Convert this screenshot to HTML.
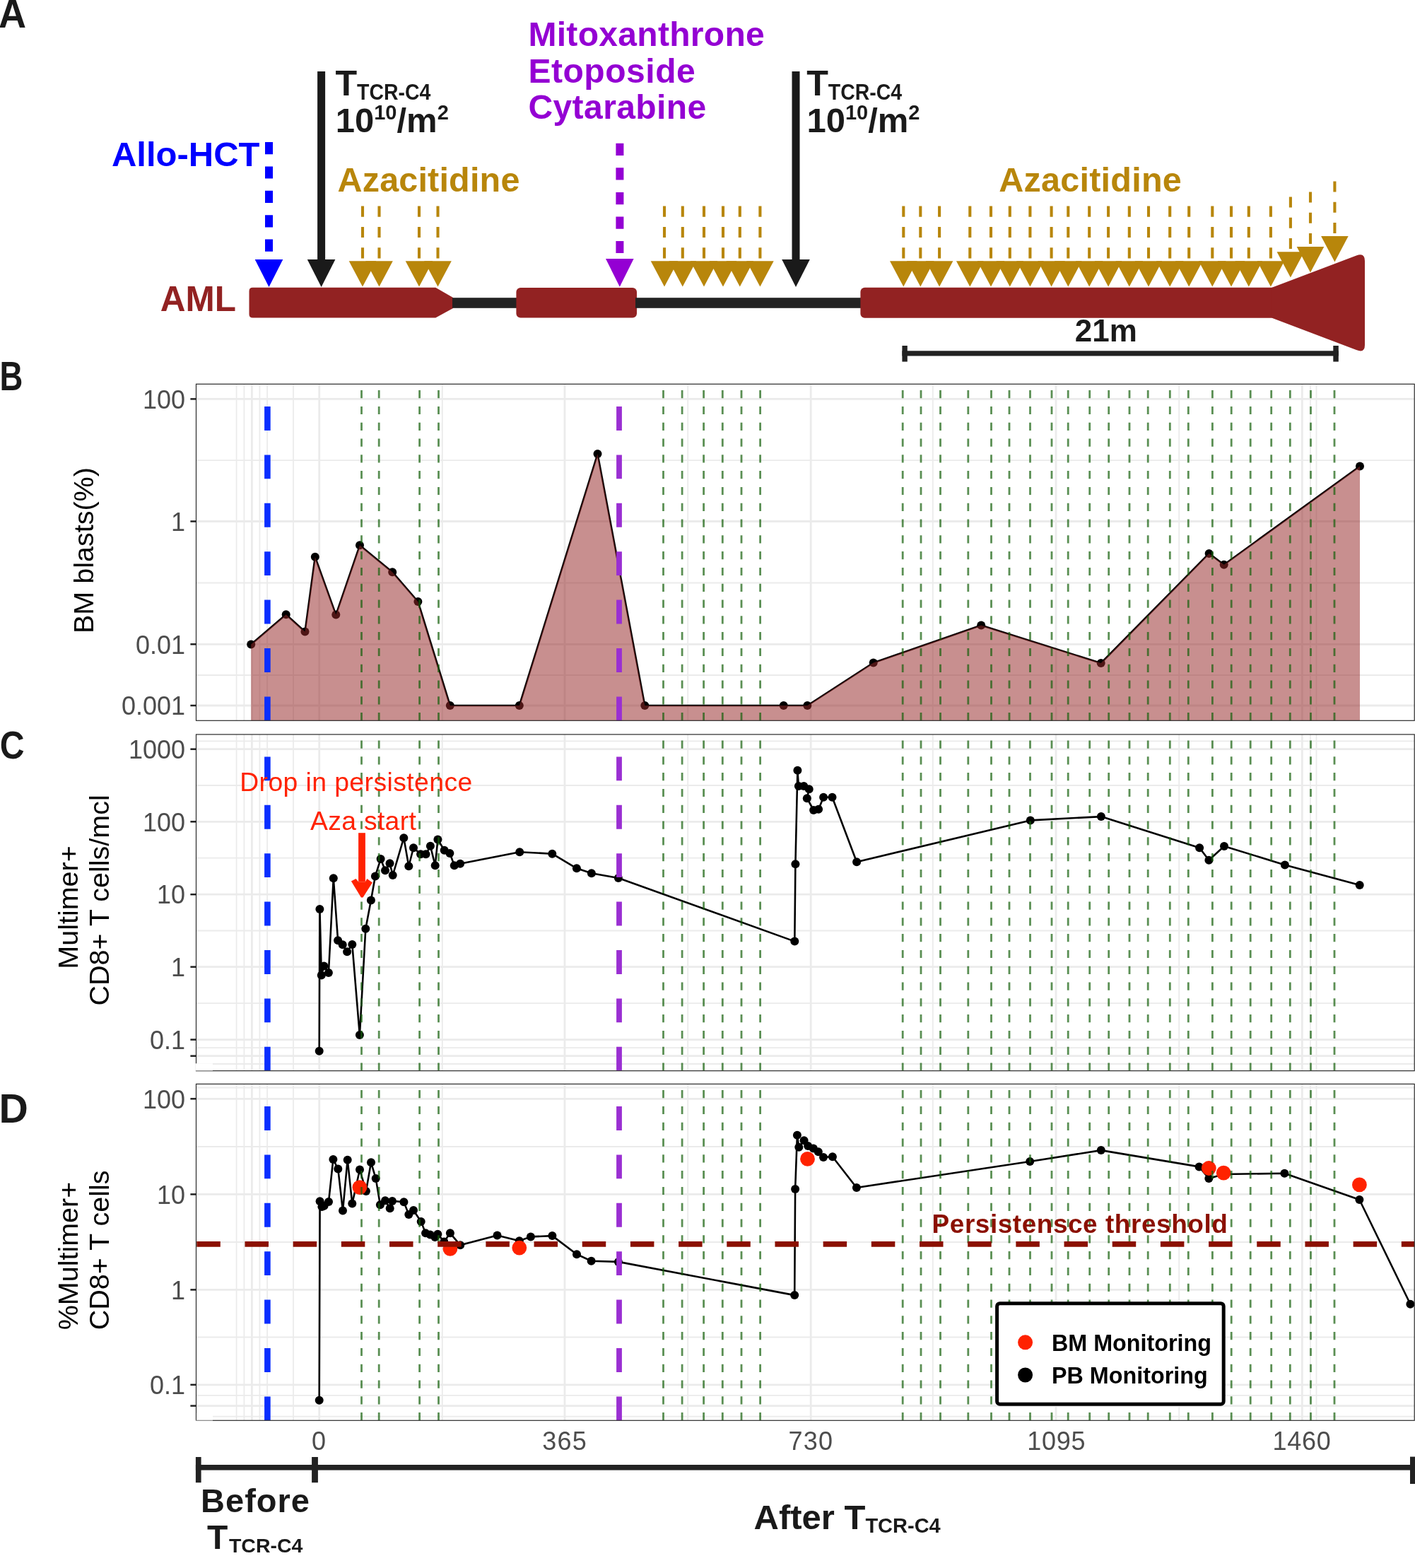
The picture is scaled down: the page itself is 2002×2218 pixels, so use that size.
<!DOCTYPE html>
<html><head><meta charset="utf-8"><title>Figure</title>
<style>html,body{margin:0;padding:0;background:#fff;overflow:hidden;}svg{display:block;}text{font-family:'Liberation Sans', Arial, sans-serif;}</style>
</head><body>
<svg width="2002" height="2218" viewBox="0 0 2002 2218">
<rect x="0" y="0" width="2002" height="2218" fill="#fff"/>
<text transform="translate(-2,39) scale(0.95,1)" font-size="57" font-weight="bold" fill="#1A1A1A">A</text>
<text transform="translate(-0.6,552) scale(0.794,1)" font-size="57.3" font-weight="bold" fill="#1A1A1A">B</text>
<text transform="translate(-0.35,1073.1) scale(0.863,1)" font-size="55.9" font-weight="bold" fill="#1A1A1A">C</text>
<text transform="translate(-1.5,1588) scale(1.01,1)" font-size="56.7" font-weight="bold" fill="#1A1A1A">D</text>
<path d="M357.5,406.8 H616.3 L641,421 V436 L616.3,449.6 H357.5 Q352.5,449.6 352.5,444.6 V411.8 Q352.5,406.8 357.5,406.8 Z" fill="#922222"/>
<rect x="640" y="421.2" width="92" height="14.6" fill="#222222"/>
<rect x="730.4" y="407.1" width="170.6" height="42.5" rx="6" fill="#922222"/>
<rect x="899" y="421.2" width="320" height="14.6" fill="#222222"/>
<rect x="1217.4" y="406.8" width="638" height="42.9" rx="6" fill="#922222"/>
<path d="M1799.6,406.8 L1919,361.5 Q1931,357 1931,369 V488 Q1931,500 1919,495 L1799.6,449.7 Z" fill="#922222"/>
<text x="334" y="440.3" font-size="49.5" font-weight="bold" fill="#922222" text-anchor="end">AML</text>
<text x="367.5" y="235" font-size="49" font-weight="bold" fill="#0000FF" text-anchor="end">Allo-HCT</text>
<line x1="380.5" y1="201" x2="380.5" y2="358" stroke="#0000FF" stroke-width="11" stroke-dasharray="17.2 17.2"/>
<polygon points="360.7,367 400.3,367 380.5,406" fill="#0000FF"/>
<rect x="449.1" y="101" width="11" height="268" fill="#1A1A1A"/>
<polygon points="434.8,367 474.4,367 454.6,406" fill="#1A1A1A"/>
<text x="474.6" y="135.1" font-size="50.2" font-weight="bold" fill="#1A1A1A">T</text>
<text x="505.1" y="140.5" font-size="31" font-weight="bold" fill="#1A1A1A" textLength="104.3" lengthAdjust="spacingAndGlyphs">TCR-C4</text>
<text x="474.7" y="186.5" font-size="49" font-weight="bold" fill="#1A1A1A">10<tspan font-size="29" dy="-17.6">10</tspan><tspan dy="17.6">/m</tspan><tspan font-size="29" dy="-17.6">2</tspan></text>
<rect x="1120.5" y="101" width="11" height="268" fill="#1A1A1A"/>
<polygon points="1106.2,367 1145.8,367 1126,406" fill="#1A1A1A"/>
<text x="1141.3" y="135.1" font-size="50.2" font-weight="bold" fill="#1A1A1A">T</text>
<text x="1171.8" y="140.5" font-size="31" font-weight="bold" fill="#1A1A1A" textLength="104.3" lengthAdjust="spacingAndGlyphs">TCR-C4</text>
<text x="1141.4" y="186.5" font-size="49" font-weight="bold" fill="#1A1A1A">10<tspan font-size="29" dy="-17.6">10</tspan><tspan dy="17.6">/m</tspan><tspan font-size="29" dy="-17.6">2</tspan></text>
<text x="747.4" y="64.8" font-size="48" font-weight="bold" fill="#9400D3" textLength="334.4">Mitoxanthrone</text>
<text x="747.4" y="116.6" font-size="48" font-weight="bold" fill="#9400D3" textLength="236.3">Etoposide</text>
<text x="747.4" y="168.4" font-size="48" font-weight="bold" fill="#9400D3" textLength="251.9">Cytarabine</text>
<line x1="876.9" y1="202.7" x2="876.9" y2="358" stroke="#9400D3" stroke-width="11" stroke-dasharray="17.3 17.3"/>
<polygon points="857,366 896.6,366 876.8,405.8" fill="#9400D3"/>
<text x="477.5" y="270.8" font-size="48.5" font-weight="bold" fill="#B8860B" textLength="257.9">Azacitidine</text>
<text x="1413.3" y="270.8" font-size="48.5" font-weight="bold" fill="#B8860B" textLength="258.5">Azacitidine</text>
<line x1="513" y1="291.6" x2="513" y2="366" stroke="#B8860B" stroke-width="4.1" stroke-dasharray="15.2 14.1"/>
<line x1="536.5" y1="291.6" x2="536.5" y2="366" stroke="#B8860B" stroke-width="4.1" stroke-dasharray="15.2 14.1"/>
<line x1="593" y1="291.6" x2="593" y2="366" stroke="#B8860B" stroke-width="4.1" stroke-dasharray="15.2 14.1"/>
<line x1="619.5" y1="291.6" x2="619.5" y2="366" stroke="#B8860B" stroke-width="4.1" stroke-dasharray="15.2 14.1"/>
<line x1="940" y1="291.6" x2="940" y2="366" stroke="#B8860B" stroke-width="4.1" stroke-dasharray="15.2 14.1"/>
<line x1="965.8" y1="291.6" x2="965.8" y2="366" stroke="#B8860B" stroke-width="4.1" stroke-dasharray="15.2 14.1"/>
<line x1="996" y1="291.6" x2="996" y2="366" stroke="#B8860B" stroke-width="4.1" stroke-dasharray="15.2 14.1"/>
<line x1="1023" y1="291.6" x2="1023" y2="366" stroke="#B8860B" stroke-width="4.1" stroke-dasharray="15.2 14.1"/>
<line x1="1046.8" y1="291.6" x2="1046.8" y2="366" stroke="#B8860B" stroke-width="4.1" stroke-dasharray="15.2 14.1"/>
<line x1="1075.4" y1="291.6" x2="1075.4" y2="366" stroke="#B8860B" stroke-width="4.1" stroke-dasharray="15.2 14.1"/>
<line x1="1278.3" y1="291.6" x2="1278.3" y2="366" stroke="#B8860B" stroke-width="4.1" stroke-dasharray="15.2 14.1"/>
<line x1="1302.3" y1="291.6" x2="1302.3" y2="366" stroke="#B8860B" stroke-width="4.1" stroke-dasharray="15.2 14.1"/>
<line x1="1329.1" y1="291.6" x2="1329.1" y2="366" stroke="#B8860B" stroke-width="4.1" stroke-dasharray="15.2 14.1"/>
<line x1="1372.3" y1="291.6" x2="1372.3" y2="366" stroke="#B8860B" stroke-width="4.1" stroke-dasharray="15.2 14.1"/>
<line x1="1402" y1="291.6" x2="1402" y2="366" stroke="#B8860B" stroke-width="4.1" stroke-dasharray="15.2 14.1"/>
<line x1="1428.8" y1="291.6" x2="1428.8" y2="366" stroke="#B8860B" stroke-width="4.1" stroke-dasharray="15.2 14.1"/>
<line x1="1457.4" y1="291.6" x2="1457.4" y2="366" stroke="#B8860B" stroke-width="4.1" stroke-dasharray="15.2 14.1"/>
<line x1="1487.6" y1="291.6" x2="1487.6" y2="366" stroke="#B8860B" stroke-width="4.1" stroke-dasharray="15.2 14.1"/>
<line x1="1511.3" y1="291.6" x2="1511.3" y2="366" stroke="#B8860B" stroke-width="4.1" stroke-dasharray="15.2 14.1"/>
<line x1="1541.2" y1="291.6" x2="1541.2" y2="366" stroke="#B8860B" stroke-width="4.1" stroke-dasharray="15.2 14.1"/>
<line x1="1568.1" y1="291.6" x2="1568.1" y2="366" stroke="#B8860B" stroke-width="4.1" stroke-dasharray="15.2 14.1"/>
<line x1="1597.8" y1="291.6" x2="1597.8" y2="366" stroke="#B8860B" stroke-width="4.1" stroke-dasharray="15.2 14.1"/>
<line x1="1625" y1="291.6" x2="1625" y2="366" stroke="#B8860B" stroke-width="4.1" stroke-dasharray="15.2 14.1"/>
<line x1="1655.2" y1="291.6" x2="1655.2" y2="366" stroke="#B8860B" stroke-width="4.1" stroke-dasharray="15.2 14.1"/>
<line x1="1682.2" y1="291.6" x2="1682.2" y2="366" stroke="#B8860B" stroke-width="4.1" stroke-dasharray="15.2 14.1"/>
<line x1="1715.3" y1="291.6" x2="1715.3" y2="366" stroke="#B8860B" stroke-width="4.1" stroke-dasharray="15.2 14.1"/>
<line x1="1742" y1="291.6" x2="1742" y2="366" stroke="#B8860B" stroke-width="4.1" stroke-dasharray="15.2 14.1"/>
<line x1="1766.8" y1="291.6" x2="1766.8" y2="366" stroke="#B8860B" stroke-width="4.1" stroke-dasharray="15.2 14.1"/>
<line x1="1797.9" y1="291.6" x2="1797.9" y2="366" stroke="#B8860B" stroke-width="4.1" stroke-dasharray="15.2 14.1"/>
<line x1="1825.9" y1="278.5" x2="1825.9" y2="353.3" stroke="#B8860B" stroke-width="4.1" stroke-dasharray="15 14.3"/>
<line x1="1854" y1="271.5" x2="1854" y2="346.1" stroke="#B8860B" stroke-width="4.1" stroke-dasharray="15 14.3"/>
<line x1="1888.4" y1="256.5" x2="1888.4" y2="331.1" stroke="#B8860B" stroke-width="4.1" stroke-dasharray="15 14.3"/>
<polygon points="493.7,369.2 532.3,369.2 513,405.6" fill="#B8860B"/>
<polygon points="517.2,369.2 555.8,369.2 536.5,405.6" fill="#B8860B"/>
<polygon points="573.7,369.2 612.3,369.2 593,405.6" fill="#B8860B"/>
<polygon points="600.2,369.2 638.8,369.2 619.5,405.6" fill="#B8860B"/>
<polygon points="920.7,369.2 959.3,369.2 940,405.6" fill="#B8860B"/>
<polygon points="946.5,369.2 985.1,369.2 965.8,405.6" fill="#B8860B"/>
<polygon points="976.7,369.2 1015.3,369.2 996,405.6" fill="#B8860B"/>
<polygon points="1003.7,369.2 1042.3,369.2 1023,405.6" fill="#B8860B"/>
<polygon points="1027.5,369.2 1066.1,369.2 1046.8,405.6" fill="#B8860B"/>
<polygon points="1056.1,369.2 1094.7,369.2 1075.4,405.6" fill="#B8860B"/>
<polygon points="1259,369.2 1297.6,369.2 1278.3,405.6" fill="#B8860B"/>
<polygon points="1283,369.2 1321.6,369.2 1302.3,405.6" fill="#B8860B"/>
<polygon points="1309.8,369.2 1348.4,369.2 1329.1,405.6" fill="#B8860B"/>
<polygon points="1353,369.2 1391.6,369.2 1372.3,405.6" fill="#B8860B"/>
<polygon points="1382.7,369.2 1421.3,369.2 1402,405.6" fill="#B8860B"/>
<polygon points="1409.5,369.2 1448.1,369.2 1428.8,405.6" fill="#B8860B"/>
<polygon points="1438.1,369.2 1476.7,369.2 1457.4,405.6" fill="#B8860B"/>
<polygon points="1468.3,369.2 1506.9,369.2 1487.6,405.6" fill="#B8860B"/>
<polygon points="1492,369.2 1530.6,369.2 1511.3,405.6" fill="#B8860B"/>
<polygon points="1521.9,369.2 1560.5,369.2 1541.2,405.6" fill="#B8860B"/>
<polygon points="1548.8,369.2 1587.4,369.2 1568.1,405.6" fill="#B8860B"/>
<polygon points="1578.5,369.2 1617.1,369.2 1597.8,405.6" fill="#B8860B"/>
<polygon points="1605.7,369.2 1644.3,369.2 1625,405.6" fill="#B8860B"/>
<polygon points="1635.9,369.2 1674.5,369.2 1655.2,405.6" fill="#B8860B"/>
<polygon points="1662.9,369.2 1701.5,369.2 1682.2,405.6" fill="#B8860B"/>
<polygon points="1696,369.2 1734.6,369.2 1715.3,405.6" fill="#B8860B"/>
<polygon points="1722.7,369.2 1761.3,369.2 1742,405.6" fill="#B8860B"/>
<polygon points="1747.5,369.2 1786.1,369.2 1766.8,405.6" fill="#B8860B"/>
<polygon points="1778.6,369.2 1817.2,369.2 1797.9,405.6" fill="#B8860B"/>
<polygon points="1806.6,356.3 1845.2,356.3 1825.9,392.6" fill="#B8860B"/>
<polygon points="1834.7,349.1 1873.3,349.1 1854,385.4" fill="#B8860B"/>
<polygon points="1869.1,334.1 1907.7,334.1 1888.4,370.4" fill="#B8860B"/>
<text x="1564.8" y="483.2" font-size="44" font-weight="bold" fill="#1A1A1A" text-anchor="middle">21m</text>
<rect x="1276.4" y="496.3" width="617.4" height="7.2" fill="#222222"/>
<rect x="1276.4" y="489" width="7.4" height="22.6" fill="#222222"/>
<rect x="1886.3" y="489" width="7.5" height="22.6" fill="#222222"/>
<defs><clipPath id="clipB"><rect x="277.5" y="543.3" width="1723.7" height="476"/></clipPath></defs>
<g clip-path="url(#clipB)">
<line x1="277.5" y1="651.1" x2="2001.2" y2="651.1" stroke="#EBEBEB" stroke-width="1.8"/>
<line x1="277.5" y1="824.5" x2="2001.2" y2="824.5" stroke="#EBEBEB" stroke-width="1.8"/>
<line x1="277.5" y1="955" x2="2001.2" y2="955" stroke="#EBEBEB" stroke-width="1.8"/>
<line x1="334.6" y1="543.3" x2="334.6" y2="1019.3" stroke="#EBEBEB" stroke-width="1.8"/>
<line x1="345.4" y1="543.3" x2="345.4" y2="1019.3" stroke="#EBEBEB" stroke-width="1.8"/>
<line x1="367.4" y1="543.3" x2="367.4" y2="1019.3" stroke="#EBEBEB" stroke-width="1.8"/>
<line x1="378.1" y1="543.3" x2="378.1" y2="1019.3" stroke="#EBEBEB" stroke-width="1.8"/>
<line x1="415" y1="543.3" x2="415" y2="1019.3" stroke="#EBEBEB" stroke-width="1.8"/>
<line x1="625.8" y1="543.3" x2="625.8" y2="1019.3" stroke="#EBEBEB" stroke-width="1.8"/>
<line x1="973.2" y1="543.3" x2="973.2" y2="1019.3" stroke="#EBEBEB" stroke-width="1.8"/>
<line x1="1319.8" y1="543.3" x2="1319.8" y2="1019.3" stroke="#EBEBEB" stroke-width="1.8"/>
<line x1="1668.2" y1="543.3" x2="1668.2" y2="1019.3" stroke="#EBEBEB" stroke-width="1.8"/>
<line x1="1853.9" y1="543.3" x2="1853.9" y2="1019.3" stroke="#EBEBEB" stroke-width="1.8"/>
<line x1="1862.5" y1="543.3" x2="1862.5" y2="1019.3" stroke="#EBEBEB" stroke-width="1.8"/>
<line x1="277.5" y1="564.4" x2="2001.2" y2="564.4" stroke="#EBEBEB" stroke-width="2.8"/>
<line x1="277.5" y1="737.5" x2="2001.2" y2="737.5" stroke="#EBEBEB" stroke-width="2.8"/>
<line x1="277.5" y1="911.3" x2="2001.2" y2="911.3" stroke="#EBEBEB" stroke-width="2.8"/>
<line x1="277.5" y1="998" x2="2001.2" y2="998" stroke="#EBEBEB" stroke-width="2.8"/>
<line x1="356.4" y1="543.3" x2="356.4" y2="1019.3" stroke="#EBEBEB" stroke-width="2.8"/>
<line x1="451.7" y1="543.3" x2="451.7" y2="1019.3" stroke="#EBEBEB" stroke-width="2.8"/>
<line x1="799" y1="543.3" x2="799" y2="1019.3" stroke="#EBEBEB" stroke-width="2.8"/>
<line x1="1147.2" y1="543.3" x2="1147.2" y2="1019.3" stroke="#EBEBEB" stroke-width="2.8"/>
<line x1="1494" y1="543.3" x2="1494" y2="1019.3" stroke="#EBEBEB" stroke-width="2.8"/>
<line x1="1842.3" y1="543.3" x2="1842.3" y2="1019.3" stroke="#EBEBEB" stroke-width="2.8"/>
<circle cx="355.2" cy="911.4" r="6" fill="#000"/>
<circle cx="404.7" cy="869.3" r="6" fill="#000"/>
<circle cx="431.5" cy="893.5" r="6" fill="#000"/>
<circle cx="445.8" cy="787.7" r="6" fill="#000"/>
<circle cx="475.3" cy="869.6" r="6" fill="#000"/>
<circle cx="509" cy="771.3" r="6" fill="#000"/>
<circle cx="555.2" cy="809.2" r="6" fill="#000"/>
<circle cx="591.4" cy="851" r="6" fill="#000"/>
<circle cx="636.8" cy="998" r="6" fill="#000"/>
<circle cx="734.8" cy="998" r="6" fill="#000"/>
<circle cx="845.5" cy="642.1" r="6" fill="#000"/>
<circle cx="912.3" cy="998" r="6" fill="#000"/>
<circle cx="1108.7" cy="998" r="6" fill="#000"/>
<circle cx="1142.3" cy="998" r="6" fill="#000"/>
<circle cx="1235.7" cy="937.5" r="6" fill="#000"/>
<circle cx="1388.2" cy="884.5" r="6" fill="#000"/>
<circle cx="1557.7" cy="938" r="6" fill="#000"/>
<circle cx="1710.6" cy="782.9" r="6" fill="#000"/>
<circle cx="1731.7" cy="798.7" r="6" fill="#000"/>
<circle cx="1924" cy="659.5" r="6" fill="#000"/>
<polyline points="355.2,911.4 404.7,869.3 431.5,893.5 445.8,787.7 475.3,869.6 509,771.3 555.2,809.2 591.4,851 636.8,998 734.8,998 845.5,642.1 912.3,998 1108.7,998 1142.3,998 1235.7,937.5 1388.2,884.5 1557.7,938 1710.6,782.9 1731.7,798.7 1924,659.5" fill="none" stroke="#000" stroke-width="2.6" stroke-linejoin="round"/>
<polygon points="355.2,1021.3 355.2,911.4 404.7,869.3 431.5,893.5 445.8,787.7 475.3,869.6 509,771.3 555.2,809.2 591.4,851 636.8,998 734.8,998 845.5,642.1 912.3,998 1108.7,998 1142.3,998 1235.7,937.5 1388.2,884.5 1557.7,938 1710.6,782.9 1731.7,798.7 1924,659.5 1924,1021.3" fill="rgb(150,40,40)" fill-opacity="0.52"/>
<line x1="378.4" y1="1019.3" x2="378.4" y2="543.3" stroke="#0A2EFF" stroke-width="8.6" stroke-dasharray="33.9 34.5"/>
<line x1="876" y1="1019.3" x2="876" y2="543.3" stroke="#9A2FD2" stroke-width="7.8" stroke-dasharray="33.9 34.5"/>
<line x1="511.5" y1="1019.3" x2="511.5" y2="543.3" stroke="rgba(20,95,10,0.70)" stroke-width="2.8" stroke-dasharray="11.2 11.6"/>
<line x1="536.2" y1="1019.3" x2="536.2" y2="543.3" stroke="rgba(20,95,10,0.70)" stroke-width="2.8" stroke-dasharray="11.2 11.6"/>
<line x1="593.6" y1="1019.3" x2="593.6" y2="543.3" stroke="rgba(20,95,10,0.70)" stroke-width="2.8" stroke-dasharray="11.2 11.6"/>
<line x1="620.5" y1="1019.3" x2="620.5" y2="543.3" stroke="rgba(20,95,10,0.70)" stroke-width="2.8" stroke-dasharray="11.2 11.6"/>
<line x1="938.5" y1="1019.3" x2="938.5" y2="543.3" stroke="rgba(20,95,10,0.70)" stroke-width="2.8" stroke-dasharray="11.2 11.6"/>
<line x1="965.1" y1="1019.3" x2="965.1" y2="543.3" stroke="rgba(20,95,10,0.70)" stroke-width="2.8" stroke-dasharray="11.2 11.6"/>
<line x1="995.6" y1="1019.3" x2="995.6" y2="543.3" stroke="rgba(20,95,10,0.70)" stroke-width="2.8" stroke-dasharray="11.2 11.6"/>
<line x1="1022.3" y1="1019.3" x2="1022.3" y2="543.3" stroke="rgba(20,95,10,0.70)" stroke-width="2.8" stroke-dasharray="11.2 11.6"/>
<line x1="1049" y1="1019.3" x2="1049" y2="543.3" stroke="rgba(20,95,10,0.70)" stroke-width="2.8" stroke-dasharray="11.2 11.6"/>
<line x1="1075.6" y1="1019.3" x2="1075.6" y2="543.3" stroke="rgba(20,95,10,0.70)" stroke-width="2.8" stroke-dasharray="11.2 11.6"/>
<line x1="1277.2" y1="1019.3" x2="1277.2" y2="543.3" stroke="rgba(20,95,10,0.70)" stroke-width="2.8" stroke-dasharray="11.2 11.6"/>
<line x1="1303" y1="1019.3" x2="1303" y2="543.3" stroke="rgba(20,95,10,0.70)" stroke-width="2.8" stroke-dasharray="11.2 11.6"/>
<line x1="1330.5" y1="1019.3" x2="1330.5" y2="543.3" stroke="rgba(20,95,10,0.70)" stroke-width="2.8" stroke-dasharray="11.2 11.6"/>
<line x1="1369.8" y1="1019.3" x2="1369.8" y2="543.3" stroke="rgba(20,95,10,0.70)" stroke-width="2.8" stroke-dasharray="11.2 11.6"/>
<line x1="1402.5" y1="1019.3" x2="1402.5" y2="543.3" stroke="rgba(20,95,10,0.70)" stroke-width="2.8" stroke-dasharray="11.2 11.6"/>
<line x1="1428" y1="1019.3" x2="1428" y2="543.3" stroke="rgba(20,95,10,0.70)" stroke-width="2.8" stroke-dasharray="11.2 11.6"/>
<line x1="1457.5" y1="1019.3" x2="1457.5" y2="543.3" stroke="rgba(20,95,10,0.70)" stroke-width="2.8" stroke-dasharray="11.2 11.6"/>
<line x1="1488" y1="1019.3" x2="1488" y2="543.3" stroke="rgba(20,95,10,0.70)" stroke-width="2.8" stroke-dasharray="11.2 11.6"/>
<line x1="1511.2" y1="1019.3" x2="1511.2" y2="543.3" stroke="rgba(20,95,10,0.70)" stroke-width="2.8" stroke-dasharray="11.2 11.6"/>
<line x1="1541.7" y1="1019.3" x2="1541.7" y2="543.3" stroke="rgba(20,95,10,0.70)" stroke-width="2.8" stroke-dasharray="11.2 11.6"/>
<line x1="1568.7" y1="1019.3" x2="1568.7" y2="543.3" stroke="rgba(20,95,10,0.70)" stroke-width="2.8" stroke-dasharray="11.2 11.6"/>
<line x1="1598" y1="1019.3" x2="1598" y2="543.3" stroke="rgba(20,95,10,0.70)" stroke-width="2.8" stroke-dasharray="11.2 11.6"/>
<line x1="1624.2" y1="1019.3" x2="1624.2" y2="543.3" stroke="rgba(20,95,10,0.70)" stroke-width="2.8" stroke-dasharray="11.2 11.6"/>
<line x1="1655.3" y1="1019.3" x2="1655.3" y2="543.3" stroke="rgba(20,95,10,0.70)" stroke-width="2.8" stroke-dasharray="11.2 11.6"/>
<line x1="1681.3" y1="1019.3" x2="1681.3" y2="543.3" stroke="rgba(20,95,10,0.70)" stroke-width="2.8" stroke-dasharray="11.2 11.6"/>
<line x1="1715.4" y1="1019.3" x2="1715.4" y2="543.3" stroke="rgba(20,95,10,0.70)" stroke-width="2.8" stroke-dasharray="11.2 11.6"/>
<line x1="1742.2" y1="1019.3" x2="1742.2" y2="543.3" stroke="rgba(20,95,10,0.70)" stroke-width="2.8" stroke-dasharray="11.2 11.6"/>
<line x1="1769.2" y1="1019.3" x2="1769.2" y2="543.3" stroke="rgba(20,95,10,0.70)" stroke-width="2.8" stroke-dasharray="11.2 11.6"/>
<line x1="1798.7" y1="1019.3" x2="1798.7" y2="543.3" stroke="rgba(20,95,10,0.70)" stroke-width="2.8" stroke-dasharray="11.2 11.6"/>
<line x1="1825.3" y1="1019.3" x2="1825.3" y2="543.3" stroke="rgba(20,95,10,0.70)" stroke-width="2.8" stroke-dasharray="11.2 11.6"/>
<line x1="1854.5" y1="1019.3" x2="1854.5" y2="543.3" stroke="rgba(20,95,10,0.70)" stroke-width="2.8" stroke-dasharray="11.2 11.6"/>
<line x1="1888" y1="1019.3" x2="1888" y2="543.3" stroke="rgba(20,95,10,0.70)" stroke-width="2.8" stroke-dasharray="11.2 11.6"/>
</g>
<rect x="277.5" y="543.3" width="1723.7" height="476" fill="none" stroke="#2A2A2A" stroke-width="1.2"/>
<line x1="269.4" y1="564.4" x2="277.5" y2="564.4" stroke="#1F1F1F" stroke-width="2.5"/>
<text x="262" y="577.6" font-size="36" fill="#4D4D4D" text-anchor="end">100</text>
<line x1="269.4" y1="737.5" x2="277.5" y2="737.5" stroke="#1F1F1F" stroke-width="2.5"/>
<text x="262" y="750.7" font-size="36" fill="#4D4D4D" text-anchor="end">1</text>
<line x1="269.4" y1="911.3" x2="277.5" y2="911.3" stroke="#1F1F1F" stroke-width="2.5"/>
<text x="262" y="924.5" font-size="36" fill="#4D4D4D" text-anchor="end">0.01</text>
<line x1="269.4" y1="998" x2="277.5" y2="998" stroke="#1F1F1F" stroke-width="2.5"/>
<text x="262" y="1011.2" font-size="36" fill="#4D4D4D" text-anchor="end">0.001</text>
<defs><clipPath id="clipC"><rect x="277.5" y="1038.9" width="1723.7" height="475.8"/></clipPath></defs>
<g clip-path="url(#clipC)">
<line x1="277.5" y1="1048.4" x2="2001.2" y2="1048.4" stroke="#EBEBEB" stroke-width="1.8"/>
<line x1="277.5" y1="1111" x2="2001.2" y2="1111" stroke="#EBEBEB" stroke-width="1.8"/>
<line x1="277.5" y1="1213.7" x2="2001.2" y2="1213.7" stroke="#EBEBEB" stroke-width="1.8"/>
<line x1="277.5" y1="1316.5" x2="2001.2" y2="1316.5" stroke="#EBEBEB" stroke-width="1.8"/>
<line x1="277.5" y1="1419.2" x2="2001.2" y2="1419.2" stroke="#EBEBEB" stroke-width="1.8"/>
<line x1="277.5" y1="1482.2" x2="2001.2" y2="1482.2" stroke="#EBEBEB" stroke-width="1.8"/>
<line x1="277.5" y1="1505" x2="2001.2" y2="1505" stroke="#EBEBEB" stroke-width="1.8"/>
<line x1="334.6" y1="1038.9" x2="334.6" y2="1514.7" stroke="#EBEBEB" stroke-width="1.8"/>
<line x1="345.4" y1="1038.9" x2="345.4" y2="1514.7" stroke="#EBEBEB" stroke-width="1.8"/>
<line x1="367.4" y1="1038.9" x2="367.4" y2="1514.7" stroke="#EBEBEB" stroke-width="1.8"/>
<line x1="378.1" y1="1038.9" x2="378.1" y2="1514.7" stroke="#EBEBEB" stroke-width="1.8"/>
<line x1="415" y1="1038.9" x2="415" y2="1514.7" stroke="#EBEBEB" stroke-width="1.8"/>
<line x1="625.8" y1="1038.9" x2="625.8" y2="1514.7" stroke="#EBEBEB" stroke-width="1.8"/>
<line x1="973.2" y1="1038.9" x2="973.2" y2="1514.7" stroke="#EBEBEB" stroke-width="1.8"/>
<line x1="1319.8" y1="1038.9" x2="1319.8" y2="1514.7" stroke="#EBEBEB" stroke-width="1.8"/>
<line x1="1668.2" y1="1038.9" x2="1668.2" y2="1514.7" stroke="#EBEBEB" stroke-width="1.8"/>
<line x1="1853.9" y1="1038.9" x2="1853.9" y2="1514.7" stroke="#EBEBEB" stroke-width="1.8"/>
<line x1="1862.5" y1="1038.9" x2="1862.5" y2="1514.7" stroke="#EBEBEB" stroke-width="1.8"/>
<line x1="277.5" y1="1059.7" x2="2001.2" y2="1059.7" stroke="#EBEBEB" stroke-width="2.8"/>
<line x1="277.5" y1="1162.3" x2="2001.2" y2="1162.3" stroke="#EBEBEB" stroke-width="2.8"/>
<line x1="277.5" y1="1265.2" x2="2001.2" y2="1265.2" stroke="#EBEBEB" stroke-width="2.8"/>
<line x1="277.5" y1="1367.7" x2="2001.2" y2="1367.7" stroke="#EBEBEB" stroke-width="2.8"/>
<line x1="277.5" y1="1470.6" x2="2001.2" y2="1470.6" stroke="#EBEBEB" stroke-width="2.8"/>
<line x1="277.5" y1="1493.7" x2="2001.2" y2="1493.7" stroke="#EBEBEB" stroke-width="2.8"/>
<line x1="356.4" y1="1038.9" x2="356.4" y2="1514.7" stroke="#EBEBEB" stroke-width="2.8"/>
<line x1="451.7" y1="1038.9" x2="451.7" y2="1514.7" stroke="#EBEBEB" stroke-width="2.8"/>
<line x1="799" y1="1038.9" x2="799" y2="1514.7" stroke="#EBEBEB" stroke-width="2.8"/>
<line x1="1147.2" y1="1038.9" x2="1147.2" y2="1514.7" stroke="#EBEBEB" stroke-width="2.8"/>
<line x1="1494" y1="1038.9" x2="1494" y2="1514.7" stroke="#EBEBEB" stroke-width="2.8"/>
<line x1="1842.3" y1="1038.9" x2="1842.3" y2="1514.7" stroke="#EBEBEB" stroke-width="2.8"/>
<polyline points="451.7,1486.7 452.4,1286.1 454.8,1379.4 458.4,1366.5 464.9,1376 471.8,1242.3 478.1,1330.2 484.7,1336.2 491.1,1346.3 498.3,1335.9 508.9,1464.1 517.3,1313.7 524.9,1273.5 530.9,1239.5 538.6,1215.1 545,1231.3 551.5,1221.2 555.7,1238.1 571.3,1185.2 578.3,1225.2 585,1199.2 595.1,1208.3 602.5,1208.3 608.9,1196.8 615.7,1224.3 619.4,1187.6 628.7,1202.8 636.4,1206.9 642.8,1224.3 651.1,1221.7 735.2,1205.2 781.3,1207.7 815.9,1228.3 836.9,1235.2 874.9,1242 1124.3,1331.6 1125.4,1222.2 1128.4,1089.8 1129.9,1112.1 1137.3,1112.1 1144.7,1116.3 1141.8,1129.2 1151.1,1146 1158.1,1144.8 1165.1,1127.7 1177.5,1127.7 1212.1,1219.2 1457.8,1160.4 1557.9,1155.1 1697.1,1199.2 1710.4,1216.8 1732,1197 1817.9,1223.4 1923.7,1252" fill="none" stroke="#000" stroke-width="2.6" stroke-linejoin="round"/>
<circle cx="451.7" cy="1486.7" r="6" fill="#000"/>
<circle cx="452.4" cy="1286.1" r="6" fill="#000"/>
<circle cx="454.8" cy="1379.4" r="6" fill="#000"/>
<circle cx="458.4" cy="1366.5" r="6" fill="#000"/>
<circle cx="464.9" cy="1376" r="6" fill="#000"/>
<circle cx="471.8" cy="1242.3" r="6" fill="#000"/>
<circle cx="478.1" cy="1330.2" r="6" fill="#000"/>
<circle cx="484.7" cy="1336.2" r="6" fill="#000"/>
<circle cx="491.1" cy="1346.3" r="6" fill="#000"/>
<circle cx="498.3" cy="1335.9" r="6" fill="#000"/>
<circle cx="508.9" cy="1464.1" r="6" fill="#000"/>
<circle cx="517.3" cy="1313.7" r="6" fill="#000"/>
<circle cx="524.9" cy="1273.5" r="6" fill="#000"/>
<circle cx="530.9" cy="1239.5" r="6" fill="#000"/>
<circle cx="538.6" cy="1215.1" r="6" fill="#000"/>
<circle cx="545" cy="1231.3" r="6" fill="#000"/>
<circle cx="551.5" cy="1221.2" r="6" fill="#000"/>
<circle cx="555.7" cy="1238.1" r="6" fill="#000"/>
<circle cx="571.3" cy="1185.2" r="6" fill="#000"/>
<circle cx="578.3" cy="1225.2" r="6" fill="#000"/>
<circle cx="585" cy="1199.2" r="6" fill="#000"/>
<circle cx="595.1" cy="1208.3" r="6" fill="#000"/>
<circle cx="602.5" cy="1208.3" r="6" fill="#000"/>
<circle cx="608.9" cy="1196.8" r="6" fill="#000"/>
<circle cx="615.7" cy="1224.3" r="6" fill="#000"/>
<circle cx="619.4" cy="1187.6" r="6" fill="#000"/>
<circle cx="628.7" cy="1202.8" r="6" fill="#000"/>
<circle cx="636.4" cy="1206.9" r="6" fill="#000"/>
<circle cx="642.8" cy="1224.3" r="6" fill="#000"/>
<circle cx="651.1" cy="1221.7" r="6" fill="#000"/>
<circle cx="735.2" cy="1205.2" r="6" fill="#000"/>
<circle cx="781.3" cy="1207.7" r="6" fill="#000"/>
<circle cx="815.9" cy="1228.3" r="6" fill="#000"/>
<circle cx="836.9" cy="1235.2" r="6" fill="#000"/>
<circle cx="874.9" cy="1242" r="6" fill="#000"/>
<circle cx="1124.3" cy="1331.6" r="6" fill="#000"/>
<circle cx="1125.4" cy="1222.2" r="6" fill="#000"/>
<circle cx="1128.4" cy="1089.8" r="6" fill="#000"/>
<circle cx="1129.9" cy="1112.1" r="6" fill="#000"/>
<circle cx="1137.3" cy="1112.1" r="6" fill="#000"/>
<circle cx="1144.7" cy="1116.3" r="6" fill="#000"/>
<circle cx="1141.8" cy="1129.2" r="6" fill="#000"/>
<circle cx="1151.1" cy="1146" r="6" fill="#000"/>
<circle cx="1158.1" cy="1144.8" r="6" fill="#000"/>
<circle cx="1165.1" cy="1127.7" r="6" fill="#000"/>
<circle cx="1177.5" cy="1127.7" r="6" fill="#000"/>
<circle cx="1212.1" cy="1219.2" r="6" fill="#000"/>
<circle cx="1457.8" cy="1160.4" r="6" fill="#000"/>
<circle cx="1557.9" cy="1155.1" r="6" fill="#000"/>
<circle cx="1697.1" cy="1199.2" r="6" fill="#000"/>
<circle cx="1710.4" cy="1216.8" r="6" fill="#000"/>
<circle cx="1732" cy="1197" r="6" fill="#000"/>
<circle cx="1817.9" cy="1223.4" r="6" fill="#000"/>
<circle cx="1923.7" cy="1252" r="6" fill="#000"/>
<line x1="378.4" y1="1514.7" x2="378.4" y2="1038.9" stroke="#0A2EFF" stroke-width="8.6" stroke-dasharray="33.9 34.5"/>
<line x1="876" y1="1514.7" x2="876" y2="1038.9" stroke="#9A2FD2" stroke-width="7.8" stroke-dasharray="33.9 34.5"/>
<line x1="511.5" y1="1514.7" x2="511.5" y2="1038.9" stroke="rgba(20,95,10,0.70)" stroke-width="2.8" stroke-dasharray="11.2 11.6"/>
<line x1="536.2" y1="1514.7" x2="536.2" y2="1038.9" stroke="rgba(20,95,10,0.70)" stroke-width="2.8" stroke-dasharray="11.2 11.6"/>
<line x1="593.6" y1="1514.7" x2="593.6" y2="1038.9" stroke="rgba(20,95,10,0.70)" stroke-width="2.8" stroke-dasharray="11.2 11.6"/>
<line x1="620.5" y1="1514.7" x2="620.5" y2="1038.9" stroke="rgba(20,95,10,0.70)" stroke-width="2.8" stroke-dasharray="11.2 11.6"/>
<line x1="938.5" y1="1514.7" x2="938.5" y2="1038.9" stroke="rgba(20,95,10,0.70)" stroke-width="2.8" stroke-dasharray="11.2 11.6"/>
<line x1="965.1" y1="1514.7" x2="965.1" y2="1038.9" stroke="rgba(20,95,10,0.70)" stroke-width="2.8" stroke-dasharray="11.2 11.6"/>
<line x1="995.6" y1="1514.7" x2="995.6" y2="1038.9" stroke="rgba(20,95,10,0.70)" stroke-width="2.8" stroke-dasharray="11.2 11.6"/>
<line x1="1022.3" y1="1514.7" x2="1022.3" y2="1038.9" stroke="rgba(20,95,10,0.70)" stroke-width="2.8" stroke-dasharray="11.2 11.6"/>
<line x1="1049" y1="1514.7" x2="1049" y2="1038.9" stroke="rgba(20,95,10,0.70)" stroke-width="2.8" stroke-dasharray="11.2 11.6"/>
<line x1="1075.6" y1="1514.7" x2="1075.6" y2="1038.9" stroke="rgba(20,95,10,0.70)" stroke-width="2.8" stroke-dasharray="11.2 11.6"/>
<line x1="1277.2" y1="1514.7" x2="1277.2" y2="1038.9" stroke="rgba(20,95,10,0.70)" stroke-width="2.8" stroke-dasharray="11.2 11.6"/>
<line x1="1303" y1="1514.7" x2="1303" y2="1038.9" stroke="rgba(20,95,10,0.70)" stroke-width="2.8" stroke-dasharray="11.2 11.6"/>
<line x1="1330.5" y1="1514.7" x2="1330.5" y2="1038.9" stroke="rgba(20,95,10,0.70)" stroke-width="2.8" stroke-dasharray="11.2 11.6"/>
<line x1="1369.8" y1="1514.7" x2="1369.8" y2="1038.9" stroke="rgba(20,95,10,0.70)" stroke-width="2.8" stroke-dasharray="11.2 11.6"/>
<line x1="1402.5" y1="1514.7" x2="1402.5" y2="1038.9" stroke="rgba(20,95,10,0.70)" stroke-width="2.8" stroke-dasharray="11.2 11.6"/>
<line x1="1428" y1="1514.7" x2="1428" y2="1038.9" stroke="rgba(20,95,10,0.70)" stroke-width="2.8" stroke-dasharray="11.2 11.6"/>
<line x1="1457.5" y1="1514.7" x2="1457.5" y2="1038.9" stroke="rgba(20,95,10,0.70)" stroke-width="2.8" stroke-dasharray="11.2 11.6"/>
<line x1="1488" y1="1514.7" x2="1488" y2="1038.9" stroke="rgba(20,95,10,0.70)" stroke-width="2.8" stroke-dasharray="11.2 11.6"/>
<line x1="1511.2" y1="1514.7" x2="1511.2" y2="1038.9" stroke="rgba(20,95,10,0.70)" stroke-width="2.8" stroke-dasharray="11.2 11.6"/>
<line x1="1541.7" y1="1514.7" x2="1541.7" y2="1038.9" stroke="rgba(20,95,10,0.70)" stroke-width="2.8" stroke-dasharray="11.2 11.6"/>
<line x1="1568.7" y1="1514.7" x2="1568.7" y2="1038.9" stroke="rgba(20,95,10,0.70)" stroke-width="2.8" stroke-dasharray="11.2 11.6"/>
<line x1="1598" y1="1514.7" x2="1598" y2="1038.9" stroke="rgba(20,95,10,0.70)" stroke-width="2.8" stroke-dasharray="11.2 11.6"/>
<line x1="1624.2" y1="1514.7" x2="1624.2" y2="1038.9" stroke="rgba(20,95,10,0.70)" stroke-width="2.8" stroke-dasharray="11.2 11.6"/>
<line x1="1655.3" y1="1514.7" x2="1655.3" y2="1038.9" stroke="rgba(20,95,10,0.70)" stroke-width="2.8" stroke-dasharray="11.2 11.6"/>
<line x1="1681.3" y1="1514.7" x2="1681.3" y2="1038.9" stroke="rgba(20,95,10,0.70)" stroke-width="2.8" stroke-dasharray="11.2 11.6"/>
<line x1="1715.4" y1="1514.7" x2="1715.4" y2="1038.9" stroke="rgba(20,95,10,0.70)" stroke-width="2.8" stroke-dasharray="11.2 11.6"/>
<line x1="1742.2" y1="1514.7" x2="1742.2" y2="1038.9" stroke="rgba(20,95,10,0.70)" stroke-width="2.8" stroke-dasharray="11.2 11.6"/>
<line x1="1769.2" y1="1514.7" x2="1769.2" y2="1038.9" stroke="rgba(20,95,10,0.70)" stroke-width="2.8" stroke-dasharray="11.2 11.6"/>
<line x1="1798.7" y1="1514.7" x2="1798.7" y2="1038.9" stroke="rgba(20,95,10,0.70)" stroke-width="2.8" stroke-dasharray="11.2 11.6"/>
<line x1="1825.3" y1="1514.7" x2="1825.3" y2="1038.9" stroke="rgba(20,95,10,0.70)" stroke-width="2.8" stroke-dasharray="11.2 11.6"/>
<line x1="1854.5" y1="1514.7" x2="1854.5" y2="1038.9" stroke="rgba(20,95,10,0.70)" stroke-width="2.8" stroke-dasharray="11.2 11.6"/>
<line x1="1888" y1="1514.7" x2="1888" y2="1038.9" stroke="rgba(20,95,10,0.70)" stroke-width="2.8" stroke-dasharray="11.2 11.6"/>
</g>
<rect x="507.1" y="1178.2" width="9.8" height="69" fill="#FF2200"/>
<polygon points="496.9,1246.4 503.5,1243.1 507.1,1247.3 516.9,1247.3 519.3,1243.1 526.9,1248.6 513.5,1269.6 510.9,1269.6" fill="#FF2200"/>
<text x="503.7" y="1119.4" font-size="37.3" fill="#FF2200" text-anchor="middle" textLength="329">Drop in persistence</text>
<text x="513.9" y="1174.2" font-size="37.3" fill="#FF2200" text-anchor="middle" textLength="149.7">Aza start</text>
<rect x="277.5" y="1038.9" width="1723.7" height="475.8" fill="none" stroke="#2A2A2A" stroke-width="1.2"/>
<line x1="269.4" y1="1059.7" x2="277.5" y2="1059.7" stroke="#1F1F1F" stroke-width="2.5"/>
<text x="262" y="1072.9" font-size="36" fill="#4D4D4D" text-anchor="end">1000</text>
<line x1="269.4" y1="1162.3" x2="277.5" y2="1162.3" stroke="#1F1F1F" stroke-width="2.5"/>
<text x="262" y="1175.5" font-size="36" fill="#4D4D4D" text-anchor="end">100</text>
<line x1="269.4" y1="1265.2" x2="277.5" y2="1265.2" stroke="#1F1F1F" stroke-width="2.5"/>
<text x="262" y="1278.4" font-size="36" fill="#4D4D4D" text-anchor="end">10</text>
<line x1="269.4" y1="1367.7" x2="277.5" y2="1367.7" stroke="#1F1F1F" stroke-width="2.5"/>
<text x="262" y="1380.9" font-size="36" fill="#4D4D4D" text-anchor="end">1</text>
<line x1="269.4" y1="1470.6" x2="277.5" y2="1470.6" stroke="#1F1F1F" stroke-width="2.5"/>
<text x="262" y="1483.8" font-size="36" fill="#4D4D4D" text-anchor="end">0.1</text>
<line x1="269.4" y1="1493.7" x2="277.5" y2="1493.7" stroke="#1F1F1F" stroke-width="2.5"/>
<defs><clipPath id="clipD"><rect x="277.5" y="1533.4" width="1723.7" height="475.9"/></clipPath></defs>
<g clip-path="url(#clipD)">
<line x1="277.5" y1="1538.7" x2="2001.2" y2="1538.7" stroke="#EBEBEB" stroke-width="1.8"/>
<line x1="277.5" y1="1622" x2="2001.2" y2="1622" stroke="#EBEBEB" stroke-width="1.8"/>
<line x1="277.5" y1="1757" x2="2001.2" y2="1757" stroke="#EBEBEB" stroke-width="1.8"/>
<line x1="277.5" y1="1891.5" x2="2001.2" y2="1891.5" stroke="#EBEBEB" stroke-width="1.8"/>
<line x1="277.5" y1="1973.9" x2="2001.2" y2="1973.9" stroke="#EBEBEB" stroke-width="1.8"/>
<line x1="277.5" y1="2003.6" x2="2001.2" y2="2003.6" stroke="#EBEBEB" stroke-width="1.8"/>
<line x1="334.6" y1="1533.4" x2="334.6" y2="2009.3" stroke="#EBEBEB" stroke-width="1.8"/>
<line x1="345.4" y1="1533.4" x2="345.4" y2="2009.3" stroke="#EBEBEB" stroke-width="1.8"/>
<line x1="367.4" y1="1533.4" x2="367.4" y2="2009.3" stroke="#EBEBEB" stroke-width="1.8"/>
<line x1="378.1" y1="1533.4" x2="378.1" y2="2009.3" stroke="#EBEBEB" stroke-width="1.8"/>
<line x1="415" y1="1533.4" x2="415" y2="2009.3" stroke="#EBEBEB" stroke-width="1.8"/>
<line x1="625.8" y1="1533.4" x2="625.8" y2="2009.3" stroke="#EBEBEB" stroke-width="1.8"/>
<line x1="973.2" y1="1533.4" x2="973.2" y2="2009.3" stroke="#EBEBEB" stroke-width="1.8"/>
<line x1="1319.8" y1="1533.4" x2="1319.8" y2="2009.3" stroke="#EBEBEB" stroke-width="1.8"/>
<line x1="1668.2" y1="1533.4" x2="1668.2" y2="2009.3" stroke="#EBEBEB" stroke-width="1.8"/>
<line x1="1853.9" y1="1533.4" x2="1853.9" y2="2009.3" stroke="#EBEBEB" stroke-width="1.8"/>
<line x1="1862.5" y1="1533.4" x2="1862.5" y2="2009.3" stroke="#EBEBEB" stroke-width="1.8"/>
<line x1="277.5" y1="1554.3" x2="2001.2" y2="1554.3" stroke="#EBEBEB" stroke-width="2.8"/>
<line x1="277.5" y1="1689.4" x2="2001.2" y2="1689.4" stroke="#EBEBEB" stroke-width="2.8"/>
<line x1="277.5" y1="1824.4" x2="2001.2" y2="1824.4" stroke="#EBEBEB" stroke-width="2.8"/>
<line x1="277.5" y1="1958.8" x2="2001.2" y2="1958.8" stroke="#EBEBEB" stroke-width="2.8"/>
<line x1="277.5" y1="1988.6" x2="2001.2" y2="1988.6" stroke="#EBEBEB" stroke-width="2.8"/>
<line x1="356.4" y1="1533.4" x2="356.4" y2="2009.3" stroke="#EBEBEB" stroke-width="2.8"/>
<line x1="451.7" y1="1533.4" x2="451.7" y2="2009.3" stroke="#EBEBEB" stroke-width="2.8"/>
<line x1="799" y1="1533.4" x2="799" y2="2009.3" stroke="#EBEBEB" stroke-width="2.8"/>
<line x1="1147.2" y1="1533.4" x2="1147.2" y2="2009.3" stroke="#EBEBEB" stroke-width="2.8"/>
<line x1="1494" y1="1533.4" x2="1494" y2="2009.3" stroke="#EBEBEB" stroke-width="2.8"/>
<line x1="1842.3" y1="1533.4" x2="1842.3" y2="2009.3" stroke="#EBEBEB" stroke-width="2.8"/>
<polyline points="451.7,1980.7 452.6,1699.3 455.4,1707.1 458.6,1705.7 465,1700 471.4,1640 478.3,1653.6 485,1712.6 491.7,1640.7 498.3,1702.6 509,1654.6 517.9,1685 525,1644.3 531.7,1667.1 537.9,1704.3 545,1698.3 551.7,1709.3 555,1698.9 571.4,1700.3 578.3,1717.9 585,1712.1 595.7,1727.9 602.1,1744.3 608.6,1746.4 615.4,1750 619.3,1745.7 628.3,1756.4 636.9,1744.3 651.2,1761.3 703.5,1747.5 734.8,1755.2 750.9,1749.4 781.4,1748.1 816,1774.2 836.6,1783.7 874.9,1784.9 1124.2,1832.1 1125.1,1682.1 1127.9,1605.7 1130.3,1622.8 1137.6,1613.3 1143.2,1621 1150.8,1624.4 1157.8,1629.3 1165,1636.9 1177.9,1636.3 1211.9,1680 1457.2,1643 1557.8,1627.1 1696.6,1650.4 1710.3,1666.9 1731.2,1661 1817.4,1659.8 1923.4,1697 1995.4,1844.8" fill="none" stroke="#000" stroke-width="2.6" stroke-linejoin="round"/>
<circle cx="451.7" cy="1980.7" r="6" fill="#000"/>
<circle cx="452.6" cy="1699.3" r="6" fill="#000"/>
<circle cx="455.4" cy="1707.1" r="6" fill="#000"/>
<circle cx="458.6" cy="1705.7" r="6" fill="#000"/>
<circle cx="465" cy="1700" r="6" fill="#000"/>
<circle cx="471.4" cy="1640" r="6" fill="#000"/>
<circle cx="478.3" cy="1653.6" r="6" fill="#000"/>
<circle cx="485" cy="1712.6" r="6" fill="#000"/>
<circle cx="491.7" cy="1640.7" r="6" fill="#000"/>
<circle cx="498.3" cy="1702.6" r="6" fill="#000"/>
<circle cx="509" cy="1654.6" r="6" fill="#000"/>
<circle cx="517.9" cy="1685" r="6" fill="#000"/>
<circle cx="525" cy="1644.3" r="6" fill="#000"/>
<circle cx="531.7" cy="1667.1" r="6" fill="#000"/>
<circle cx="537.9" cy="1704.3" r="6" fill="#000"/>
<circle cx="545" cy="1698.3" r="6" fill="#000"/>
<circle cx="551.7" cy="1709.3" r="6" fill="#000"/>
<circle cx="555" cy="1698.9" r="6" fill="#000"/>
<circle cx="571.4" cy="1700.3" r="6" fill="#000"/>
<circle cx="578.3" cy="1717.9" r="6" fill="#000"/>
<circle cx="585" cy="1712.1" r="6" fill="#000"/>
<circle cx="595.7" cy="1727.9" r="6" fill="#000"/>
<circle cx="602.1" cy="1744.3" r="6" fill="#000"/>
<circle cx="608.6" cy="1746.4" r="6" fill="#000"/>
<circle cx="615.4" cy="1750" r="6" fill="#000"/>
<circle cx="619.3" cy="1745.7" r="6" fill="#000"/>
<circle cx="628.3" cy="1756.4" r="6" fill="#000"/>
<circle cx="636.9" cy="1744.3" r="6" fill="#000"/>
<circle cx="651.2" cy="1761.3" r="6" fill="#000"/>
<circle cx="703.5" cy="1747.5" r="6" fill="#000"/>
<circle cx="734.8" cy="1755.2" r="6" fill="#000"/>
<circle cx="750.9" cy="1749.4" r="6" fill="#000"/>
<circle cx="781.4" cy="1748.1" r="6" fill="#000"/>
<circle cx="816" cy="1774.2" r="6" fill="#000"/>
<circle cx="836.6" cy="1783.7" r="6" fill="#000"/>
<circle cx="874.9" cy="1784.9" r="6" fill="#000"/>
<circle cx="1124.2" cy="1832.1" r="6" fill="#000"/>
<circle cx="1125.1" cy="1682.1" r="6" fill="#000"/>
<circle cx="1127.9" cy="1605.7" r="6" fill="#000"/>
<circle cx="1130.3" cy="1622.8" r="6" fill="#000"/>
<circle cx="1137.6" cy="1613.3" r="6" fill="#000"/>
<circle cx="1143.2" cy="1621" r="6" fill="#000"/>
<circle cx="1150.8" cy="1624.4" r="6" fill="#000"/>
<circle cx="1157.8" cy="1629.3" r="6" fill="#000"/>
<circle cx="1165" cy="1636.9" r="6" fill="#000"/>
<circle cx="1177.9" cy="1636.3" r="6" fill="#000"/>
<circle cx="1211.9" cy="1680" r="6" fill="#000"/>
<circle cx="1457.2" cy="1643" r="6" fill="#000"/>
<circle cx="1557.8" cy="1627.1" r="6" fill="#000"/>
<circle cx="1696.6" cy="1650.4" r="6" fill="#000"/>
<circle cx="1710.3" cy="1666.9" r="6" fill="#000"/>
<circle cx="1731.2" cy="1661" r="6" fill="#000"/>
<circle cx="1817.4" cy="1659.8" r="6" fill="#000"/>
<circle cx="1923.4" cy="1697" r="6" fill="#000"/>
<circle cx="1995.4" cy="1844.8" r="6" fill="#000"/>
<circle cx="508.9" cy="1679.6" r="10.4" fill="#FF2200"/>
<circle cx="636.9" cy="1766.4" r="10.4" fill="#FF2200"/>
<circle cx="734.8" cy="1765.1" r="10.4" fill="#FF2200"/>
<circle cx="1142.5" cy="1639.4" r="10.4" fill="#FF2200"/>
<circle cx="1710.3" cy="1652.5" r="10.4" fill="#FF2200"/>
<circle cx="1731.2" cy="1659.1" r="10.4" fill="#FF2200"/>
<circle cx="1923.4" cy="1675.9" r="10.4" fill="#FF2200"/>
<line x1="378.4" y1="2009.3" x2="378.4" y2="1533.4" stroke="#0A2EFF" stroke-width="8.6" stroke-dasharray="33.9 34.5"/>
<line x1="876" y1="2009.3" x2="876" y2="1533.4" stroke="#9A2FD2" stroke-width="7.8" stroke-dasharray="33.9 34.5"/>
<line x1="511.5" y1="2009.3" x2="511.5" y2="1533.4" stroke="rgba(20,95,10,0.70)" stroke-width="2.8" stroke-dasharray="11.2 11.6"/>
<line x1="536.2" y1="2009.3" x2="536.2" y2="1533.4" stroke="rgba(20,95,10,0.70)" stroke-width="2.8" stroke-dasharray="11.2 11.6"/>
<line x1="593.6" y1="2009.3" x2="593.6" y2="1533.4" stroke="rgba(20,95,10,0.70)" stroke-width="2.8" stroke-dasharray="11.2 11.6"/>
<line x1="620.5" y1="2009.3" x2="620.5" y2="1533.4" stroke="rgba(20,95,10,0.70)" stroke-width="2.8" stroke-dasharray="11.2 11.6"/>
<line x1="938.5" y1="2009.3" x2="938.5" y2="1533.4" stroke="rgba(20,95,10,0.70)" stroke-width="2.8" stroke-dasharray="11.2 11.6"/>
<line x1="965.1" y1="2009.3" x2="965.1" y2="1533.4" stroke="rgba(20,95,10,0.70)" stroke-width="2.8" stroke-dasharray="11.2 11.6"/>
<line x1="995.6" y1="2009.3" x2="995.6" y2="1533.4" stroke="rgba(20,95,10,0.70)" stroke-width="2.8" stroke-dasharray="11.2 11.6"/>
<line x1="1022.3" y1="2009.3" x2="1022.3" y2="1533.4" stroke="rgba(20,95,10,0.70)" stroke-width="2.8" stroke-dasharray="11.2 11.6"/>
<line x1="1049" y1="2009.3" x2="1049" y2="1533.4" stroke="rgba(20,95,10,0.70)" stroke-width="2.8" stroke-dasharray="11.2 11.6"/>
<line x1="1075.6" y1="2009.3" x2="1075.6" y2="1533.4" stroke="rgba(20,95,10,0.70)" stroke-width="2.8" stroke-dasharray="11.2 11.6"/>
<line x1="1277.2" y1="2009.3" x2="1277.2" y2="1533.4" stroke="rgba(20,95,10,0.70)" stroke-width="2.8" stroke-dasharray="11.2 11.6"/>
<line x1="1303" y1="2009.3" x2="1303" y2="1533.4" stroke="rgba(20,95,10,0.70)" stroke-width="2.8" stroke-dasharray="11.2 11.6"/>
<line x1="1330.5" y1="2009.3" x2="1330.5" y2="1533.4" stroke="rgba(20,95,10,0.70)" stroke-width="2.8" stroke-dasharray="11.2 11.6"/>
<line x1="1369.8" y1="2009.3" x2="1369.8" y2="1533.4" stroke="rgba(20,95,10,0.70)" stroke-width="2.8" stroke-dasharray="11.2 11.6"/>
<line x1="1402.5" y1="2009.3" x2="1402.5" y2="1533.4" stroke="rgba(20,95,10,0.70)" stroke-width="2.8" stroke-dasharray="11.2 11.6"/>
<line x1="1428" y1="2009.3" x2="1428" y2="1533.4" stroke="rgba(20,95,10,0.70)" stroke-width="2.8" stroke-dasharray="11.2 11.6"/>
<line x1="1457.5" y1="2009.3" x2="1457.5" y2="1533.4" stroke="rgba(20,95,10,0.70)" stroke-width="2.8" stroke-dasharray="11.2 11.6"/>
<line x1="1488" y1="2009.3" x2="1488" y2="1533.4" stroke="rgba(20,95,10,0.70)" stroke-width="2.8" stroke-dasharray="11.2 11.6"/>
<line x1="1511.2" y1="2009.3" x2="1511.2" y2="1533.4" stroke="rgba(20,95,10,0.70)" stroke-width="2.8" stroke-dasharray="11.2 11.6"/>
<line x1="1541.7" y1="2009.3" x2="1541.7" y2="1533.4" stroke="rgba(20,95,10,0.70)" stroke-width="2.8" stroke-dasharray="11.2 11.6"/>
<line x1="1568.7" y1="2009.3" x2="1568.7" y2="1533.4" stroke="rgba(20,95,10,0.70)" stroke-width="2.8" stroke-dasharray="11.2 11.6"/>
<line x1="1598" y1="2009.3" x2="1598" y2="1533.4" stroke="rgba(20,95,10,0.70)" stroke-width="2.8" stroke-dasharray="11.2 11.6"/>
<line x1="1624.2" y1="2009.3" x2="1624.2" y2="1533.4" stroke="rgba(20,95,10,0.70)" stroke-width="2.8" stroke-dasharray="11.2 11.6"/>
<line x1="1655.3" y1="2009.3" x2="1655.3" y2="1533.4" stroke="rgba(20,95,10,0.70)" stroke-width="2.8" stroke-dasharray="11.2 11.6"/>
<line x1="1681.3" y1="2009.3" x2="1681.3" y2="1533.4" stroke="rgba(20,95,10,0.70)" stroke-width="2.8" stroke-dasharray="11.2 11.6"/>
<line x1="1715.4" y1="2009.3" x2="1715.4" y2="1533.4" stroke="rgba(20,95,10,0.70)" stroke-width="2.8" stroke-dasharray="11.2 11.6"/>
<line x1="1742.2" y1="2009.3" x2="1742.2" y2="1533.4" stroke="rgba(20,95,10,0.70)" stroke-width="2.8" stroke-dasharray="11.2 11.6"/>
<line x1="1769.2" y1="2009.3" x2="1769.2" y2="1533.4" stroke="rgba(20,95,10,0.70)" stroke-width="2.8" stroke-dasharray="11.2 11.6"/>
<line x1="1798.7" y1="2009.3" x2="1798.7" y2="1533.4" stroke="rgba(20,95,10,0.70)" stroke-width="2.8" stroke-dasharray="11.2 11.6"/>
<line x1="1825.3" y1="2009.3" x2="1825.3" y2="1533.4" stroke="rgba(20,95,10,0.70)" stroke-width="2.8" stroke-dasharray="11.2 11.6"/>
<line x1="1854.5" y1="2009.3" x2="1854.5" y2="1533.4" stroke="rgba(20,95,10,0.70)" stroke-width="2.8" stroke-dasharray="11.2 11.6"/>
<line x1="1888" y1="2009.3" x2="1888" y2="1533.4" stroke="rgba(20,95,10,0.70)" stroke-width="2.8" stroke-dasharray="11.2 11.6"/>
<line x1="278.3" y1="1759.9" x2="2002" y2="1759.9" stroke="#8B1000" stroke-width="7.7" stroke-dasharray="33.5 34.68"/>
<rect x="1410.6" y="1843.7" width="320.6" height="142.5" rx="4" fill="#fff" stroke="#000" stroke-width="5"/>
<circle cx="1450.6" cy="1898.8" r="10.5" fill="#FF2200"/>
<circle cx="1450.6" cy="1945" r="10.5" fill="#000"/>
</g>
<text x="1527.7" y="1743.5" font-size="37" font-weight="bold" fill="#8B1000" text-anchor="middle" textLength="418.2">Persistensce threshold</text>
<text x="1488" y="1910.8" font-size="32.3" font-weight="bold" fill="#000">BM Monitoring</text>
<text x="1488" y="1956.9" font-size="32.3" font-weight="bold" fill="#000">PB Monitoring</text>
<rect x="277.5" y="1533.4" width="1723.7" height="475.9" fill="none" stroke="#2A2A2A" stroke-width="1.2"/>
<line x1="269.4" y1="1554.3" x2="277.5" y2="1554.3" stroke="#1F1F1F" stroke-width="2.5"/>
<text x="262" y="1567.5" font-size="36" fill="#4D4D4D" text-anchor="end">100</text>
<line x1="269.4" y1="1689.4" x2="277.5" y2="1689.4" stroke="#1F1F1F" stroke-width="2.5"/>
<text x="262" y="1702.6" font-size="36" fill="#4D4D4D" text-anchor="end">10</text>
<line x1="269.4" y1="1824.4" x2="277.5" y2="1824.4" stroke="#1F1F1F" stroke-width="2.5"/>
<text x="262" y="1837.6" font-size="36" fill="#4D4D4D" text-anchor="end">1</text>
<line x1="269.4" y1="1958.8" x2="277.5" y2="1958.8" stroke="#1F1F1F" stroke-width="2.5"/>
<text x="262" y="1972" font-size="36" fill="#4D4D4D" text-anchor="end">0.1</text>
<line x1="269.4" y1="1988.6" x2="277.5" y2="1988.6" stroke="#1F1F1F" stroke-width="2.5"/>
<rect x="276.6" y="1504.3" width="24.4" height="10" fill="#fff"/>
<line x1="277" y1="1514.7" x2="301" y2="1514.7" stroke="#999" stroke-width="1.2"/>
<rect x="278.2" y="1998.9" width="22.8" height="10" fill="#fff"/>
<line x1="277" y1="2009.3" x2="301" y2="2009.3" stroke="#999" stroke-width="1.2"/>
<text transform="translate(131.9,778.6) rotate(-90)" font-size="39.5" fill="#000" text-anchor="middle">BM blasts(%)</text>
<text transform="translate(110.1,1370.7) rotate(-90)" font-size="39.5" fill="#000">Multimer+</text>
<text transform="translate(153.6,1422.5) rotate(-90)" font-size="39.5" fill="#000">CD8+ T cells/mcl</text>
<text transform="translate(110.1,1881.3) rotate(-90)" font-size="39.5" fill="#000">%Multimer+</text>
<text transform="translate(153.6,1881.3) rotate(-90)" font-size="39.5" fill="#000">CD8+ T cells</text>
<text x="451.1" y="2050.5" font-size="36" fill="#4D4D4D" text-anchor="middle">0</text>
<text x="798.5" y="2050.5" font-size="36" fill="#4D4D4D" text-anchor="middle" textLength="62.4">365</text>
<text x="1146.8" y="2050.5" font-size="36" fill="#4D4D4D" text-anchor="middle" textLength="62.4">730</text>
<text x="1494.4" y="2050.5" font-size="36" fill="#4D4D4D" text-anchor="middle" textLength="82.3">1095</text>
<text x="1841.7" y="2050.5" font-size="36" fill="#4D4D4D" text-anchor="middle" textLength="82.3">1460</text>
<rect x="276.9" y="2072" width="1725.1" height="7.6" fill="#222222"/>
<rect x="276.9" y="2061" width="7.7" height="36.2" fill="#222222"/>
<rect x="441.1" y="2061" width="8.8" height="36.2" fill="#222222"/>
<rect x="1995" y="2060.6" width="7" height="38.4" fill="#222222"/>
<text x="361" y="2139.4" font-size="47" font-weight="bold" fill="#1A1A1A" text-anchor="middle" textLength="154">Before</text>
<text x="293" y="2191.1" font-size="48" font-weight="bold" fill="#1A1A1A">T<tspan font-size="28.5" dy="4.6" dx="1.6">TCR-C4</tspan></text>
<text x="1066.5" y="2162.6" font-size="49" font-weight="bold" fill="#1A1A1A">After T<tspan font-size="29" dy="5">TCR-C4</tspan></text>
</svg>
</body></html>
